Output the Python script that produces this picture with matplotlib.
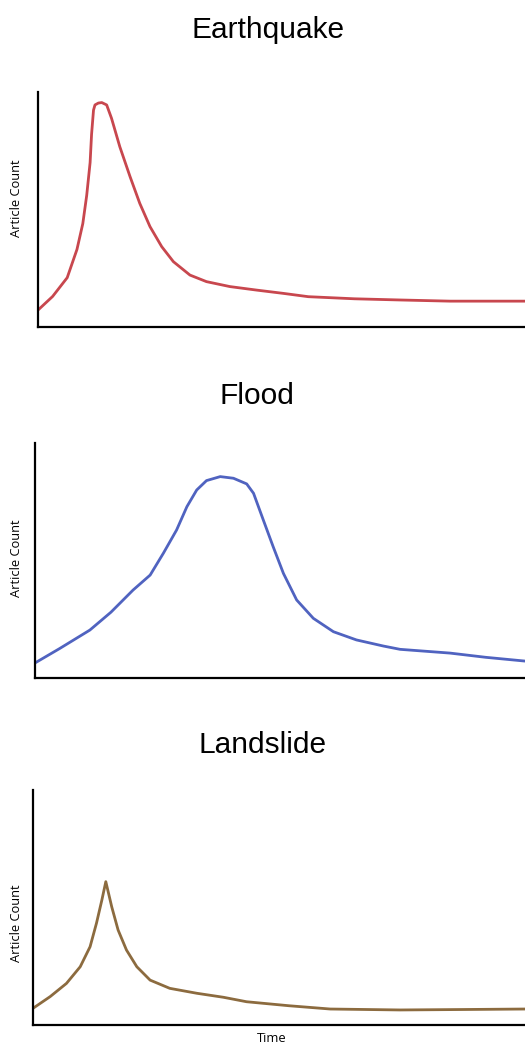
import matplotlib.pyplot as plt

# values, x and y as fractions of each panel
quake_x = [0.0, 0.03, 0.06, 0.08, 0.092, 0.10, 0.107, 0.110, 0.114, 0.117, 0.124, 0.131, 0.141,
           0.151, 0.168, 0.189, 0.209, 0.230, 0.254, 0.278, 0.312, 0.346, 0.394,
           0.449, 0.504, 0.555, 0.65, 0.743, 0.846, 1.0]
quake_y = [0.072, 0.13, 0.21, 0.33, 0.44, 0.56, 0.70, 0.82, 0.923, 0.945, 0.953, 0.955, 0.945,
           0.888, 0.767, 0.640, 0.526, 0.427, 0.342, 0.278, 0.221, 0.193, 0.172,
           0.157, 0.143, 0.129, 0.12, 0.115, 0.11, 0.11]

flood_x = [0.0, 0.05, 0.112, 0.155, 0.2, 0.235, 0.262, 0.289, 0.310, 0.330, 0.350, 0.378,
           0.405, 0.432, 0.446, 0.466, 0.486, 0.507, 0.534, 0.568, 0.609, 0.656,
           0.711, 0.745, 0.847, 0.92, 1.0]
flood_y = [0.064, 0.125, 0.204, 0.28, 0.374, 0.438, 0.531, 0.630, 0.729, 0.800, 0.840, 0.857,
           0.850, 0.826, 0.786, 0.672, 0.559, 0.445, 0.332, 0.254, 0.197, 0.162,
           0.136, 0.122, 0.106, 0.088, 0.072]

slide_x = [0.0, 0.035, 0.068, 0.096, 0.116, 0.129, 0.140, 0.148, 0.160, 0.173, 0.190, 0.211,
           0.238, 0.278, 0.333, 0.387, 0.434, 0.52, 0.604, 0.746, 0.88, 1.0]
slide_y = [0.071, 0.121, 0.177, 0.248, 0.333, 0.433, 0.532, 0.610, 0.503, 0.404, 0.319, 0.248,
           0.191, 0.156, 0.135, 0.118, 0.099, 0.082, 0.068, 0.064, 0.066, 0.068]

titles = ["Earthquake", "Flood", "Landslide"]
colors = ["#c8474e", "#5063c0", "#8c6b3f"]

fig = plt.figure(figsize=(5.25, 10.45), dpi=100)
W, H = 525, 1045

# axes boxes in pixels: left, top, right, bottom
boxes = [(38, 92, 525, 327), (35, 443, 525, 678), (33, 790, 525, 1025)]
title_pos = [(268, 38.5), (257, 404), (263, 753)]
ylab_pos = [(17, 198), (17, 558), (17, 923)]
series = [(quake_x, quake_y), (flood_x, flood_y), (slide_x, slide_y)]

for (l, t, r, b), (tx, ty), (lx, ly), (xs, ys), name, c in zip(
        boxes, title_pos, ylab_pos, series, titles, colors):
    ax = fig.add_axes([l / W, 1 - b / H, (r - l) / W, (b - t) / H])
    ax.plot(xs, ys, color=c, lw=2.0, solid_capstyle='round', solid_joinstyle='round')
    ax.set_xlim(0, 1)
    ax.set_ylim(0, 1)
    ax.set_xticks([])
    ax.set_yticks([])
    for s in ['top', 'right']:
        ax.spines[s].set_visible(False)
    for s in ['left', 'bottom']:
        ax.spines[s].set_linewidth(1.6)
    fig.text(lx / W, 1 - ly / H, "Article Count", rotation=90, ha='center', va='center',
             family="Open Sans", fontsize=9.3)
    fig.text(tx / W, 1 - ty / H, name, ha='center', va='baseline',
             family="Liberation Sans", fontsize=21.5)

fig.text(272 / W, 1 - 1038 / H, "Time", ha='center', va='center',
         family="Open Sans", fontsize=9.3)

fig.savefig("out.png", dpi=100)
